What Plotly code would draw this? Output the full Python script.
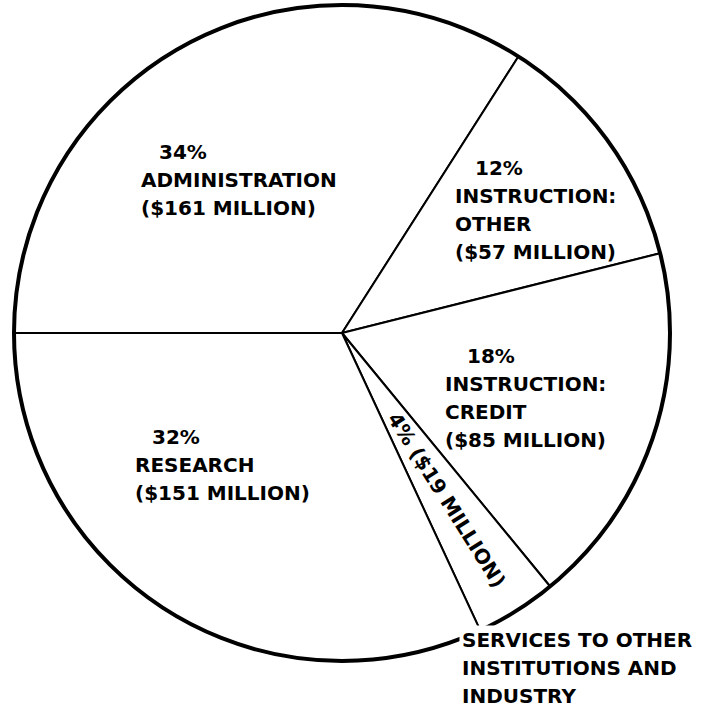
import math
import plotly.graph_objects as go

# Budget breakdown by function
categories = ["ADMINISTRATION", "INSTRUCTION: OTHER", "INSTRUCTION: CREDIT",
              "SERVICES TO OTHER INSTITUTIONS AND INDUSTRY", "RESEARCH"]
percent = [34, 12, 18, 4, 32]
millions = [161, 57, 85, 19, 151]

# How each category name is broken into lines on the chart
name_lines = [
    ["ADMINISTRATION"],
    ["INSTRUCTION:", "OTHER"],
    ["INSTRUCTION:", "CREDIT"],
    ["SERVICES TO OTHER", "INSTITUTIONS AND", "INDUSTRY"],
    ["RESEARCH"],
]

W, H = 706, 708
CX, CY, R = 342, 333, 328          # pie centre and radius, in pixels
START = 270                         # first slice starts at 9 o'clock
PITCH = 28                          # line spacing of labels, in pixels
FONT = dict(family="DejaVu Sans", size=20, color="black", weight="bold")

# Label placement (pixels): left edge / centre-line y of the percentage line
# and of the first following line
label_pos = {
    0: dict(pct=(157, 152), body=(139, 180)),
    1: dict(pct=(473, 168), body=(453, 196)),
    2: dict(pct=(465, 356), body=(443, 384)),
    4: dict(pct=(150, 437), body=(133, 465)),
}
small_slice = 3
small_value_radius = 197            # distance of the in-slice label from centre
small_name_pos = (459, 640)


def px(x):
    return x / W


def py(y):
    return 1 - y / H


fig = go.Figure(go.Pie(
    labels=categories,
    values=millions,
    sort=False,
    direction="clockwise",
    rotation=START,
    textinfo="none",
    hoverinfo="label+value",
    marker=dict(colors=["white"] * len(categories),
                line=dict(color="black", width=2)),
    domain=dict(x=[px(CX - R), px(CX + R)], y=[py(CY + R), py(CY - R)]),
    showlegend=False,
))

annotations = []


def add_line(text, x, y, **kw):
    annotations.append(dict(
        text=text, x=px(x), y=py(y), xref="paper", yref="paper",
        xanchor="left", yanchor="middle", showarrow=False, font=FONT, **kw))


for i, pos in label_pos.items():
    add_line(f"{percent[i]}%", *pos["pct"])
    bx, by = pos["body"]
    body = name_lines[i] + [f"(${millions[i]} MILLION)"]
    for k, line in enumerate(body):
        add_line(line, bx, by + k * PITCH)

# Narrow slice: value written along the middle of the slice
total = sum(millions)
before = sum(millions[:small_slice])
mid = math.radians(START + 360 * (before + millions[small_slice] / 2) / total)
lx = CX + small_value_radius * math.sin(mid)
ly = CY - small_value_radius * math.cos(mid)
text_angle = math.degrees(math.atan2(-math.cos(mid), math.sin(mid)))
annotations.append(dict(
    text=f"{percent[small_slice]}% (${millions[small_slice]} MILLION)",
    x=px(lx), y=py(ly), xref="paper", yref="paper",
    xanchor="center", yanchor="middle", textangle=text_angle,
    showarrow=False, font=FONT))

# ...and its name outside the pie
nx, ny = small_name_pos
for k, line in enumerate(name_lines[small_slice]):
    add_line(line, nx, ny + k * PITCH,
             bgcolor="white" if k == 0 else None, borderpad=2)

fig.update_layout(
    width=W, height=H,
    margin=dict(l=0, r=0, t=0, b=0),
    paper_bgcolor="white",
    plot_bgcolor="white",
    annotations=annotations,
    shapes=[dict(type="circle", xref="paper", yref="paper",
                 x0=px(CX - R), x1=px(CX + R), y0=py(CY + R), y1=py(CY - R),
                 line=dict(color="black", width=4), layer="above")],
)

fig.write_html("out.html")
